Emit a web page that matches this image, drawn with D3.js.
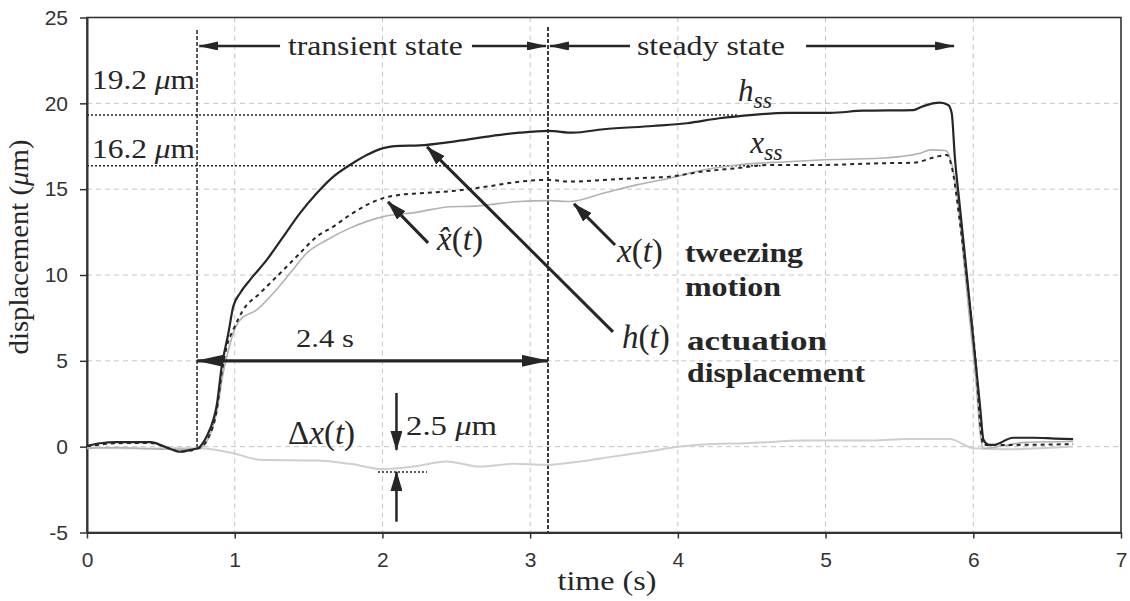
<!DOCTYPE html>
<html><head><meta charset="utf-8">
<script src="https://cdn.jsdelivr.net/npm/d3@7"></script>
<style>body{margin:0;background:#fff}svg{display:block}</style>
</head><body>
<svg id="chart" width="1130" height="601"></svg>
<script>
// ---- data ----
const xTicks = [0, 1, 2, 3, 4, 5, 6, 7];
const yTicks = [-5, 0, 5, 10, 15, 20, 25];
const xGrid = [1, 2, 3, 4, 5, 6];
const yGrid = [0, 5, 10, 15, 20];

// h(t): actuation displacement [time s, µm]
const hSeries = [[0,0.05],[0.09,0.2],[0.2,0.26],[0.43,0.26],[0.54,-0.05],[0.63,-0.29],[0.7,-0.19],[0.754,-0.07],[0.81,0.59],[0.855,1.56],[0.878,2.4],[0.912,4.66],[0.957,6.61],[0.99,8.16],[1.036,8.94],[1.104,9.72],[1.217,10.88],[1.329,12.23],[1.442,13.6],[1.555,14.76],[1.668,15.73],[1.78,16.41],[1.894,16.99],[2.006,17.39],[2.119,17.52],[2.25,17.55],[2.47,17.76],[2.706,18.06],[2.93,18.29],[3.123,18.39],[3.29,18.29],[3.496,18.49],[3.83,18.68],[4.06,18.84],[4.28,19.13],[4.51,19.33],[4.74,19.45],[5.03,19.45],[5.256,19.57],[5.595,19.61],[5.662,19.84],[5.775,20.04],[5.83,19.9],[5.854,19.42],[5.875,16.89],[5.909,13.98],[5.944,11.07],[5.978,8.16],[6.012,5.25],[6.046,2.33],[6.069,0.4],[6.1,0.12],[6.136,0.1],[6.27,0.52],[6.41,0.52],[6.55,0.47],[6.676,0.44]];
// x̂(t): estimated motion (dotted)
const xHatSeries = [[0,0.02],[0.2,0.2],[0.43,0.22],[0.54,-0.05],[0.63,-0.29],[0.754,-0.1],[0.82,0.5],[0.88,2.2],[0.912,4.3],[0.946,5.83],[0.99,6.81],[1.058,7.97],[1.171,8.94],[1.329,10.29],[1.442,11.27],[1.555,12.23],[1.668,12.82],[1.78,13.5],[1.894,14.08],[2.006,14.48],[2.119,14.67],[2.255,14.76],[2.45,14.87],[2.706,15.15],[2.93,15.44],[3.123,15.54],[3.27,15.44],[3.496,15.54],[3.72,15.64],[3.945,15.73],[4.17,16.03],[4.4,16.22],[4.62,16.41],[4.96,16.41],[5.37,16.51],[5.595,16.54],[5.75,16.89],[5.82,16.99],[5.854,16.31],[5.91,13.02],[5.944,10.68],[5.978,8.16],[6.023,4.28],[6.046,1.36],[6.07,0.1],[6.2,0.1],[6.676,0.15]];
// x(t): tweezing motion (gray)
const xSeries = [[0,-0.1],[0.2,-0.05],[0.43,-0.12],[0.6,-0.15],[0.754,-0.12],[0.82,0.45],[0.88,2.1],[0.92,4.2],[0.96,5.7],[0.99,6.61],[1.036,7.38],[1.149,7.97],[1.261,8.94],[1.374,10.1],[1.487,11.27],[1.623,12.04],[1.78,12.73],[2.006,13.4],[2.232,13.65],[2.458,13.98],[2.59,14.0],[2.93,14.28],[3.123,14.33],[3.27,14.28],[3.496,14.76],[3.72,15.25],[3.945,15.64],[4.17,16.12],[4.4,16.41],[4.74,16.6],[4.96,16.7],[5.37,16.8],[5.64,17.09],[5.71,17.29],[5.81,17.25],[5.84,16.89],[5.9,13.98],[5.933,11.07],[5.978,7.19],[6.023,3.31],[6.046,0.78],[6.07,-0.09],[6.2,0.05],[6.35,0.25],[6.676,0.3]];
// Δx(t): error (light gray)
const deltaSeries = [[0,-0.05],[0.4,-0.1],[0.763,-0.09],[0.99,-0.38],[1.171,-0.76],[1.555,-0.81],[1.78,-1.0],[2.006,-1.3],[2.21,-1.16],[2.435,-0.86],[2.66,-1.16],[2.886,-1.0],[3.11,-1.06],[3.337,-0.86],[3.56,-0.58],[3.79,-0.29],[4.015,0.01],[4.24,0.16],[4.46,0.2],[4.87,0.36],[5.32,0.36],[5.55,0.44],[5.84,0.44],[6.0,-0.09],[6.23,-0.15],[6.676,0.01]];

// annotated quantities
const hSteady = 19.32, xSteady = 16.37;   // reference levels drawn
const tStart = 0.745, tSteady = 3.121;     // phase boundaries (s)

// ---- drawing ----
const svg = d3.select("#chart");
const x = d3.scaleLinear([0, 7], [87, 1121]);
const y = d3.scaleLinear([-5, 25], [532.5, 17.5]);
const SERIF = "'Liberation Serif','Times New Roman',serif";
const INK = "#262626";

const defs = svg.append("defs");
function marker(id, len, half) {
  defs.append("marker").attr("id", id).attr("markerUnits", "userSpaceOnUse")
    .attr("viewBox", `0 ${-half} ${len} ${2*half}`).attr("refX", len - 1).attr("refY", 0)
    .attr("markerWidth", len).attr("markerHeight", 2*half).attr("orient", "auto-start-reverse")
    .append("path").attr("d", `M0,${-half}L${len},0L0,${half}Z`).attr("fill", INK);
}
marker("aS", 20, 4.5);
marker("aM", 20, 6);
marker("aL", 27, 6);

// grid
svg.append("g").selectAll("line").data(xGrid).join("line")
  .attr("x1", d => x(d)).attr("x2", d => x(d)).attr("y1", y(25)).attr("y2", y(-5))
  .attr("stroke", "#c4c4c4").attr("stroke-width", 1).attr("stroke-dasharray", "5,4");
svg.append("g").selectAll("line").data(yGrid).join("line")
  .attr("x1", x(0)).attr("x2", x(7)).attr("y1", d => y(d)).attr("y2", d => y(d))
  .attr("stroke", "#c4c4c4").attr("stroke-width", 1).attr("stroke-dasharray", "5,4");

// frame
svg.append("rect").attr("x", x(0)).attr("y", y(25)).attr("width", x(7) - x(0)).attr("height", y(-5) - y(25))
  .attr("fill", "none").attr("stroke", "#333").attr("stroke-width", 1.6);

// axes
const yAxis = svg.append("g").attr("transform", `translate(${x(0)},0)`)
  .call(d3.axisLeft(y).tickValues(yTicks).tickSize(7).tickSizeOuter(0).tickPadding(12).tickFormat(d => String(d)));
const xAxis = svg.append("g").attr("transform", `translate(0,${y(-5)})`)
  .call(d3.axisBottom(x).tickValues(xTicks).tickSize(6).tickSizeOuter(0).tickPadding(14).tickFormat(d => String(d)));
[yAxis, xAxis].forEach(a => {
  a.select(".domain").attr("stroke", "#333").attr("stroke-width", 2);
  a.selectAll(".tick line").attr("stroke", "#333").attr("stroke-width", 1.5);
  a.selectAll(".tick text").attr("fill", "#333").attr("font-family", "'Liberation Sans',Arial,sans-serif").attr("font-size", 21);
});

// reference dotted levels
svg.append("line").attr("x1", x(0)).attr("x2", x(4.4)).attr("y1", y(hSteady)).attr("y2", y(hSteady))
  .attr("stroke", INK).attr("stroke-width", 1.5).attr("stroke-dasharray", "2,2");
svg.append("line").attr("x1", x(0)).attr("x2", x(4.56)).attr("y1", y(xSteady)).attr("y2", y(xSteady))
  .attr("stroke", INK).attr("stroke-width", 1.5).attr("stroke-dasharray", "2,2");

// phase boundaries
svg.append("line").attr("x1", x(tStart)).attr("x2", x(tStart)).attr("y1", y(24.27)).attr("y2", y(0))
  .attr("stroke", INK).attr("stroke-width", 1.5).attr("stroke-dasharray", "4,2");
svg.append("line").attr("x1", x(tSteady)).attr("x2", x(tSteady)).attr("y1", y(24.45)).attr("y2", y(-5))
  .attr("stroke", INK).attr("stroke-width", 1.8).attr("stroke-dasharray", "4,2");

// series
const line = d3.line().x(d => x(d[0])).y(d => y(d[1])).curve(d3.curveMonotoneX);
svg.append("path").datum(deltaSeries).attr("d", line).attr("fill", "none").attr("stroke", "#cfcfcf").attr("stroke-width", 2);
svg.append("path").datum(xSeries).attr("d", line).attr("fill", "none").attr("stroke", "#b2b2b2").attr("stroke-width", 1.6);
svg.append("path").datum(xHatSeries).attr("d", line).attr("fill", "none").attr("stroke", INK).attr("stroke-width", 2).attr("stroke-dasharray", "4,4");
svg.append("path").datum(hSeries).attr("d", line).attr("fill", "none").attr("stroke", INK).attr("stroke-width", 2.2);

// arrows
function arrow(t1, v1, t2, v2, w, mEnd, mStart) {
  const l = svg.append("line").attr("x1", x(t1)).attr("y1", y(v1)).attr("x2", x(t2)).attr("y2", y(v2))
    .attr("stroke", INK).attr("stroke-width", w);
  if (mEnd) l.attr("marker-end", `url(#${mEnd})`);
  if (mStart) l.attr("marker-start", `url(#${mStart})`);
}
// transient / steady
arrow(1.307, 23.34, 0.76, 23.34, 2.5, "aS");
arrow(2.606, 23.34, 3.107, 23.34, 2.5, "aS");
arrow(3.676, 23.34, 3.134, 23.34, 2.5, "aS");
arrow(4.868, 23.34, 5.87, 23.34, 2.5, "aS");
// 2.4 s
arrow(tStart, 5, tSteady, 5, 3.3, "aL", "aL");
// pointers
arrow(2.309, 11.87, 2.038, 14.26, 3, "aM");
arrow(3.575, 11.75, 3.297, 14.14, 3, "aM");
arrow(3.561, 6.69, 2.302, 17.46, 3, "aM");
// 2.5 µm
arrow(2.095, 3.13, 2.095, -0.19, 2.5, "aM");
arrow(2.095, -4.37, 2.095, -1.47, 2.5, "aM");
svg.append("line").attr("x1", x(1.97)).attr("x2", x(2.302)).attr("y1", y(-1.47)).attr("y2", y(-1.47))
  .attr("stroke", INK).attr("stroke-width", 1.5).attr("stroke-dasharray", "2,2");

// texts
function text(t, v, size, opts = {}) {
  const el = svg.append("text").attr("x", x(t)).attr("y", y(v)).attr("font-family", SERIF)
    .attr("font-size", size).attr("fill", INK);
  if (opts.bold) el.attr("font-weight", "bold");
  if (opts.len) el.attr("textLength", opts.len).attr("lengthAdjust", "spacingAndGlyphs");
  return el;
}
text(1.36, 23.34 - 0.55, 28, {len: 175}).text("transient state");
text(3.723, 23.34 - 0.55, 28, {len: 148}).text("steady state");

let t1 = text(0.034, 20.84, 27, {len: 103});
t1.append("tspan").text("19.2 "); t1.append("tspan").attr("font-style", "italic").text("μ"); t1.append("tspan").text("m");
let t2 = text(0.034, 16.82, 27, {len: 103});
t2.append("tspan").text("16.2 "); t2.append("tspan").attr("font-style", "italic").text("μ"); t2.append("tspan").text("m");

let hs = text(4.407, 20.14, 31);
hs.append("tspan").attr("font-style", "italic").text("h");
hs.append("tspan").attr("font-style", "italic").attr("font-size", 24).attr("dy", 7).text("ss");
let xs = text(4.49, 17.11, 31);
xs.append("tspan").attr("font-style", "italic").text("x");
xs.append("tspan").attr("font-style", "italic").attr("font-size", 24).attr("dy", 7).text("ss");

function fn(t, v, pre, preItalic) {
  const el = text(t, v, 33);
  el.append("tspan").attr("font-style", preItalic ? "italic" : null).text(pre);
  if (!preItalic) el.append("tspan").attr("font-style", "italic").text("x");
  el.append("tspan").text("(");
  el.append("tspan").attr("font-style", "italic").text("t");
  el.append("tspan").text(")");
  return el;
}
fn(2.37, 11.46, "x\u0302", true);
fn(3.588, 10.76, "x", true);
fn(3.622, 5.75, "h", true);
fn(1.361, 0.16, "Δ", false);

text(4.048, 10.76, 28, {bold: true, len: 118}).text("tweezing");
text(4.048, 8.78, 28, {bold: true, len: 96}).text("motion");
text(4.062, 5.64, 28, {bold: true, len: 140}).text("actuation");
text(4.062, 3.77, 28, {bold: true, len: 178}).text("displacement");

text(1.415, 5.82, 26, {len: 58}).text("2.4 s");
let t3 = text(2.16, 0.69, 27, {len: 91});
t3.append("tspan").text("2.5 "); t3.append("tspan").attr("font-style", "italic").text("μ"); t3.append("tspan").text("m");

// axis titles
svg.append("text").attr("x", (x(0) + x(7)) / 2 + 3).attr("y", 590).attr("text-anchor", "middle")
  .attr("font-family", SERIF).attr("font-size", 28).attr("fill", INK)
  .attr("textLength", 99).attr("lengthAdjust", "spacingAndGlyphs").text("time (s)");
const yt = svg.append("text").attr("transform", "translate(28,247) rotate(-90)").attr("text-anchor", "middle")
  .attr("font-family", SERIF).attr("font-size", 27).attr("fill", INK)
  .attr("textLength", 215).attr("lengthAdjust", "spacingAndGlyphs");
yt.append("tspan").text("displacement (");
yt.append("tspan").attr("font-style", "italic").text("μ");
yt.append("tspan").text("m)");
</script>
</body></html>
